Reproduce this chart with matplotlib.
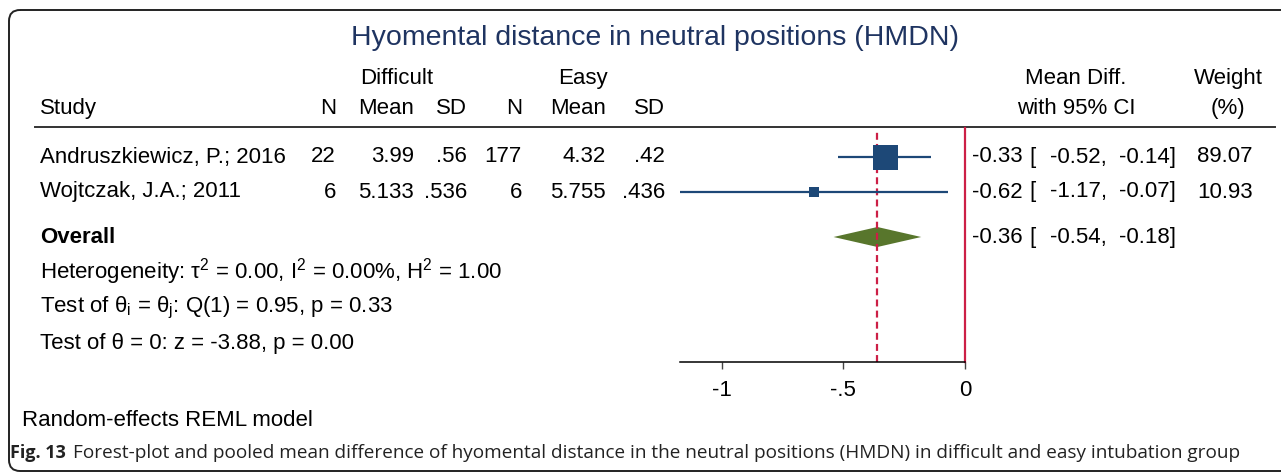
import numpy as np
import matplotlib.pyplot as plt
from matplotlib.patches import FancyBboxPatch, Polygon

plt.rcParams['font.family'] = ['Liberation Sans', 'DejaVu Sans']
plt.rcParams['mathtext.fontset'] = 'custom'
plt.rcParams['mathtext.rm'] = 'Liberation Sans'
plt.rcParams['lines.scale_dashes'] = False

# data
studies = ["Andruszkiewicz, P.; 2016", "Wojtczak, J.A.; 2011"]
n_difficult = [22, 6]
mean_difficult = [3.99, 5.133]
sd_difficult = [0.56, 0.536]
n_easy = [177, 6]
mean_easy = [4.32, 5.755]
sd_easy = [0.42, 0.436]
effect = [-0.33, -0.62]
ci_low = [-0.52, -1.17]
ci_high = [-0.14, -0.07]
weights = [89.07, 10.93]
overall = [-0.36, -0.54, -0.18]
xticks = [-1, -0.5, 0]
xtick_labels = ["-1", "-.5", "0"]

title = "Hyomental distance in neutral positions (HMDN)"
stats_lines = [
    r"Heterogeneity: $\mathregular{\tau^2}$ = 0.00, $\mathregular{I^2}$ = 0.00%, $\mathregular{H^2}$ = 1.00",
    r"Test of $\mathregular{\theta_i}$ = $\mathregular{\theta_j}$: Q(1) = 0.95, p = 0.33",
    "Test of θ = 0: z = -3.88, p = 0.00",
]
model_note = "Random-effects REML model"
caption_bold = "Fig. 13"
caption = ("Forest-plot and pooled mean difference of hyomental distance in the neutral "
           "positions (HMDN) in difficult and easy intubation group")

W, H = 1281, 474
fig = plt.figure(figsize=(W / 100, H / 100), dpi=100)

# background axes in pixel units for the table layout
bg = fig.add_axes([0, 0, 1, 1])
bg.set_xlim(0, W)
bg.set_ylim(H, 0)
bg.axis('off')

bg.add_patch(FancyBboxPatch((9, 10), 1400, 461, boxstyle="round,pad=0,rounding_size=11",
                            fill=False, ec='#222222', lw=1.4, clip_on=False))

def fmt(v):
    s = f"{v:g}"
    return s[1:] if s.startswith("0.") else s

fs = 16
txt = dict(fontsize=fs, va='center', color='black')
navy = '#1f3461'

bg.text(655, 38, title, ha='center', va='center', fontsize=20.5, color=navy)

# headers
bg.text(397, 78, "Difficult", ha='center', **txt)
bg.text(583, 78, "Easy", ha='center', **txt)
bg.text(1076, 78, "Mean Diff.", ha='center', **txt)
bg.text(1228, 78, "Weight", ha='center', **txt)
bg.text(40, 108, "Study", ha='left', **txt)
col_right = [336, 414, 467, 522, 606, 665]
for x, lab in zip(col_right, ["N", "Mean", "SD", "N", "Mean", "SD"]):
    bg.text(x, 108, lab, ha='right', **txt)
bg.text(1076, 108, "with 95% CI", ha='center', **txt)
bg.text(1228, 108, "(%)", ha='center', **txt)
bg.plot([35, 1275], [127, 127], color='#333333', lw=1.4)

rows = [157, 192]
overall_y = 237
for i, y in enumerate(rows):
    bg.text(40, y, studies[i], ha='left', **txt)
    vals = [str(n_difficult[i]), fmt(mean_difficult[i]), fmt(sd_difficult[i]),
            str(n_easy[i]), fmt(mean_easy[i]), fmt(sd_easy[i])]
    for x, v in zip(col_right, vals):
        bg.text(x, y, v, ha='right', **txt)

def ci_text(y, est, lo, hi):
    bg.text(1023, y, f"{est:.2f}", ha='right', **txt)
    bg.text(1029, y, "[", ha='left', **txt)
    bg.text(1107, y, f"{lo:.2f},", ha='right', **txt)
    bg.text(1176, y, f"{hi:.2f}]", ha='right', **txt)

for i, y in enumerate(rows):
    ci_text(y, effect[i], ci_low[i], ci_high[i])
    bg.text(1253, y, f"{weights[i]:.2f}", ha='right', **txt)
ci_text(overall_y, *overall)

bg.text(40, overall_y, "Overall", ha='left', fontweight='bold', **txt)
for y, s in zip([272, 308, 344], stats_lines):
    bg.text(40, y, s, ha='left', **txt)
bg.text(22, 420, model_note, ha='left', **txt)

cap_font = ['Open Sans', 'DejaVu Sans']
bg.text(10, 453, caption_bold, ha='left', va='center', fontsize=13,
        fontweight='bold', family=cap_font, color='#222222')
bg.text(73, 453, caption, ha='left', va='center', fontsize=13.7,
        family=cap_font, color='#222222')

# forest plot axes: 0 at x=965px, 243.3 px per unit
x0_px, x1_px = 680, 965
top_px, bot_px = 128, 362
ax = fig.add_axes([x0_px / W, (H - bot_px) / H, (x1_px - x0_px) / W, (bot_px - top_px) / H])
ax.patch.set_alpha(0)
ax.set_xlim(ci_low[1] - 0.001, 0)
ax.set_ylim(bot_px, top_px)

blue = '#1d4877'
red = '#cc1f46'
ax.axvline(0, color=red, lw=1.6, clip_on=False)
ax.axvline(overall[0], ymax=(bot_px - 131) / (bot_px - top_px), color=red, lw=1.6,
           dashes=(5, 3))

for i, y in enumerate(rows):
    ax.plot([ci_low[i], ci_high[i]], [y, y], color=blue, lw=1.6, clip_on=False,
            solid_capstyle='butt')
    side_px = 25 * (weights[i] / max(weights)) ** 0.42
    ax.plot(effect[i], y, marker='s', ms=side_px * 0.72, mew=0, color=blue, clip_on=False)

est, lo, hi = overall
ax.add_patch(Polygon([(lo, overall_y), (est, overall_y - 10), (hi, overall_y), (est, overall_y + 10)],
                     closed=True, fc='#58762c', ec='none'))

for s in ['top', 'right', 'left']:
    ax.spines[s].set_visible(False)
ax.spines['bottom'].set_color('black')
ax.spines['bottom'].set_linewidth(1.1)
ax.set_yticks([])
ax.set_xticks(xticks)
ax.set_xticklabels(xtick_labels)
ax.tick_params(axis='x', length=5, width=1, color='#444444', labelsize=fs, pad=8)

fig.savefig('out.png', dpi=100)
